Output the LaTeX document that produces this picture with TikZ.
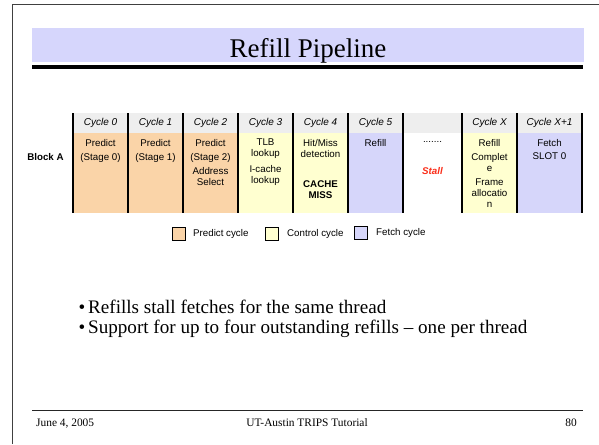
\documentclass[tikz,border=0pt]{standalone}
\usepackage{fontspec}
\setmainfont{Liberation Serif}
\setsansfont{Liberation Sans}
\usetikzlibrary{positioning}
\definecolor{predictc}{RGB}{250,212,168}
\definecolor{controlc}{RGB}{255,255,208}
\definecolor{fetchc}{RGB}{214,214,250}
\definecolor{titlec}{RGB}{214,214,252}
\definecolor{headc}{RGB}{238,238,238}
\definecolor{stallc}{RGB}{250,45,25}
\tikzset{
  hdr/.style={font=\sffamily\itshape\fontsize{10}{12}\selectfont,inner sep=0pt},
  cell/.style={font=\sffamily\fontsize{9.75}{11}\selectfont,align=center,anchor=north,inner sep=0pt},
  colsep/.style={line width=1.3pt},
  lgbox/.style={draw=black,line width=0.8pt,minimum size=13pt,inner sep=0pt},
  lgtxt/.style={font=\sffamily\fontsize{9.75}{11}\selectfont,anchor=west,inner sep=0pt},
  bul/.style={font=\fontsize{19.1}{23}\selectfont,anchor=base west,inner sep=0pt},
  foot/.style={font=\fontsize{11.4}{13}\selectfont,inner sep=0pt,anchor=base},
}

\begin{document}
\begin{tikzpicture}[x=1pt,y=-1pt]
  \useasboundingbox (0,0) rectangle (599,444);
  % slide frame and title bar
  \draw[line width=1.2pt,black!75] (12.5,444) -- (12.5,4.5) -- (599,4.5);
  \fill[titlec] (32,28) rectangle (584,62);
  \node[anchor=base,inner sep=0pt,font=\fontsize{27}{30}\selectfont] (title) at (308,57) {Refill Pipeline};
  \draw[line width=3.4pt] (32,67) -- (583,67);
  % table backgrounds
  \fill[headc] (73,113) rectangle (582,133);
  \fill[predictc] (73,133) rectangle (238,213);
  \fill[controlc] (238,133) rectangle (348,213);
  \fill[fetchc] (348,133) rectangle (403,213);
  \fill[controlc] (462,133) rectangle (517,213);
  \fill[fetchc] (517,133) rectangle (582,213);
  \foreach \x in {73,128,183,238,293,348,403,462,517,582}
    \draw[colsep] (\x,113) -- (\x,213);
  % cycle headers
  \foreach \x/\nm/\txt in {100.5/c0/Cycle 0,155.5/c1/Cycle 1,210.5/c2/Cycle 2,265.5/c3/Cycle 3,
      320.5/c4/Cycle 4,375.5/c5/Cycle 5,489.5/cx/Cycle X,549.5/cy/Cycle X+1}
    \node[hdr] (\nm) at (\x,123) {\txt};
  \node[font=\sffamily\bfseries\fontsize{9.75}{11}\selectfont,inner sep=0pt] (blka) at (45.5,157) {Block A};
  % cell contents
  \node[cell] (p0) at (100.5,139) {Predict\\[3pt](Stage 0)};
  \node[cell] (p1) at (155.5,139) {Predict\\[3pt](Stage 1)};
  \node[cell] (p2) at (210.5,139) {Predict\\[3pt](Stage 2)\\[3pt]Address\\Select};
  \node[cell] (tlb) at (265.5,139) {TLB\\lookup\\[5pt]I-cache\\lookup};
  \node[cell] (hit) at (320.5,139) {Hit/Miss\\detection\\[19pt]\textbf{CACHE}\\\textbf{MISS}};
  \node[cell] (rf) at (375.5,139) {Refill};
  \node[cell] (dots) at (432.5,141) {.......};
  \node[font=\sffamily\bfseries\itshape\fontsize{9.75}{11}\selectfont,text=stallc,inner sep=0pt] (stall) at (432.5,171) {Stall};
  \node[cell] (rc) at (489.5,139) {Refill\\[3pt]Complet\\e\\[3pt]Frame\\allocatio\\n};
  \node[cell] (fs) at (549.5,139) {Fetch\\[2pt]SLOT 0};
  % legend
  \node[lgbox,fill=predictc] (lp) at (178.5,233.5) {};
  \node[lgtxt] (lpt) at (193,234) {Predict cycle};
  \node[lgbox,fill=controlc] (lc) at (271.5,233.5) {};
  \node[lgtxt] (lct) at (287,234) {Control cycle};
  \node[lgbox,fill=fetchc] (lf) at (360.5,232.5) {};
  \node[lgtxt] (lft) at (376,233) {Fetch cycle};
  % bullets
  \node[bul] (b1) at (88,313) {\llap{\textbullet\hspace{3pt}}Refills stall fetches for the same thread};
  \node[bul] (b2) at (88,333) {\llap{\textbullet\hspace{3pt}}Support for up to four outstanding refills -- one per thread};
  % footer
  \draw[line width=1pt,black!85] (32,410) -- (583,410);
  \node[foot,anchor=base west] (date) at (36,426) {June 4, 2005};
  \node[foot] (event) at (307,426) {UT-Austin TRIPS Tutorial};
  \node[foot,anchor=base east] (pg) at (577,426) {80};
\end{tikzpicture}
\end{document}
